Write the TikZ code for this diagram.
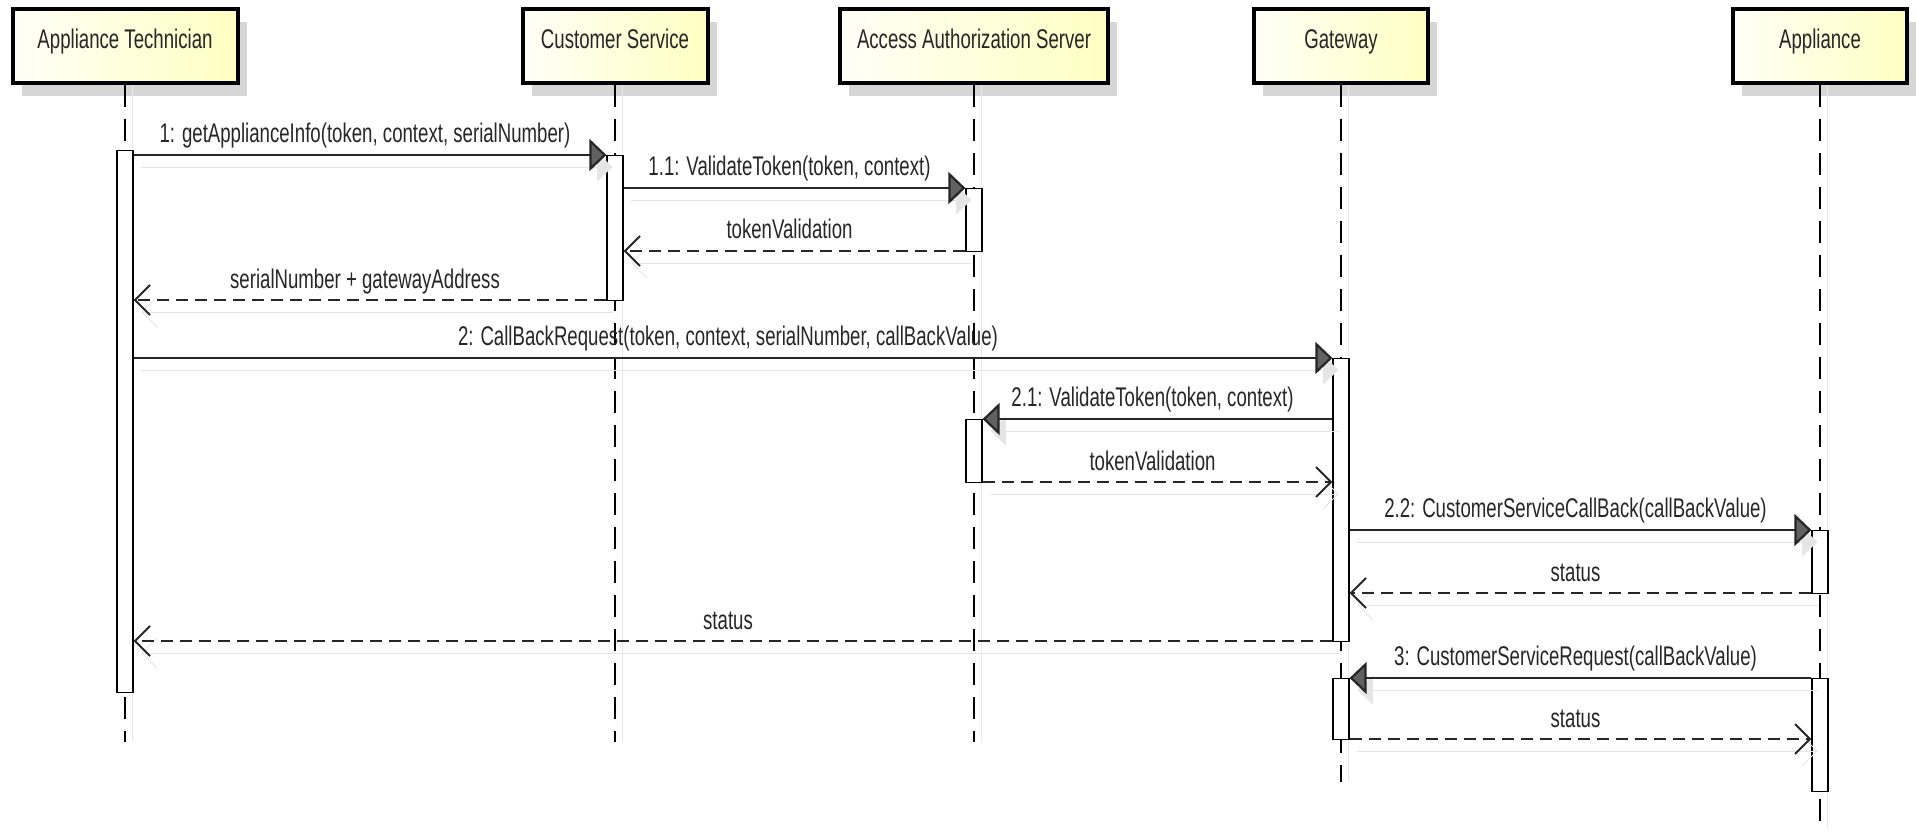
\documentclass[tikz,border=0pt]{standalone}
\usepackage{fontspec}
\setmainfont[FakeStretch=0.69]{Liberation Sans}
\usetikzlibrary{arrows.meta, shadows}

\begin{document}
\begin{tikzpicture}[x=0.5pt, y=-0.5pt]
\def\xT{125}
\def\xC{615}
\def\xA{974}
\def\xG{1341}
\def\xP{1820}
\tikzset{
  actor/.style={draw, line width=2pt, left color=yellow!3, right color=yellow!24, minimum height=37pt, inner sep=0pt, text height=9.8pt, text depth=7.5pt, font=\fontsize{13.5}{16}\selectfont, text=black!85, drop shadow={shadow xshift=4.5pt, shadow yshift=-6.5pt, fill=black!16, opacity=1}},
  life/.style={line width=0.75pt, dash pattern=on 11pt off 6pt, preaction={draw=black!9, solid, transform canvas={xshift=3.5pt}}},
  actbar/.style={draw, fill=white, line width=0.6pt, minimum width=8pt, inner sep=0pt, anchor=north},
  call/.style={line width=1.1pt, draw=black!85, -{Triangle[length=8.5pt, width=16pt, fill=black!62]}, preaction={draw=black!10, -{Triangle[length=8.5pt, width=16pt, fill=black!10]}, transform canvas={shift={(3.5pt,-6pt)}}}},
  reply/.style={line width=1pt, draw=black!85, dash pattern=on 6pt off 3.5pt, -{Straight Barb[length=7.5pt, width=15pt]}, preaction={draw=black!10, solid, transform canvas={shift={(3.5pt,-6pt)}}}},
  lbl/.style={font=\fontsize{13.5}{16}\selectfont, text=black!85, above, text depth=2.5pt, inner sep=3pt, xshift=-2.5pt}
}
\useasboundingbox (0,0) rectangle (1916,834);

% participants
\node[actor, minimum width=112.5pt] (tech) at (\xT,46) {Appliance Technician};
\node[actor, minimum width=92.5pt] (cs) at (\xC,46) {Customer Service};
\node[actor, minimum width=134pt] (aas) at (\xA,46) {Access Authorization Server};
\node[actor, minimum width=87pt] (gw) at (\xG,46) {Gateway};
\node[actor, minimum width=87pt] (app) at (\xP,46) {Appliance};

\draw[life] (tech.south) -- (tech.south |- 0,742);
\draw[life] (cs.south) -- (cs.south |- 0,742);
\draw[life] (aas.south) -- (aas.south |- 0,742);
\draw[life] (gw.south) -- (gw.south |- 0,782);
\draw[life] (app.south) -- (app.south |- 0,828);

% activations
\node[actbar, minimum height=271pt] (techBar) at (\xT,150) {};
\node[actbar, minimum height=72.5pt] (csBar) at (\xC,155) {};
\node[actbar, minimum height=31.5pt] (aasBarA) at (\xA,188) {};
\node[actbar, minimum height=31.5pt] (aasBarB) at (\xA,419) {};
\node[actbar, minimum height=141.5pt] (gwBarA) at (\xG,358) {};
\node[actbar, minimum height=31.5pt] (appBarA) at (\xP,530) {};
\node[actbar, minimum height=30.5pt] (gwBarB) at (\xG,678) {};
\node[actbar, minimum height=56.5pt] (appBarB) at (\xP,678) {};

% messages
\draw[call] (techBar.east |- 0,155) -- (csBar.west |- 0,155) node[lbl, midway] {1: getApplianceInfo(token, context, serialNumber)};
\draw[call] (csBar.east |- 0,188) -- (aasBarA.west |- 0,188) node[lbl, midway] {1.1: ValidateToken(token, context)};
\draw[reply] (aasBarA.west |- 0,251) -- (csBar.east |- 0,251) node[lbl, midway] {tokenValidation};
\draw[reply] (csBar.west |- 0,300) -- (techBar.east |- 0,300) node[lbl, midway] {serialNumber + gatewayAddress};
\draw[call] (techBar.east |- 0,358) -- (gwBarA.west |- 0,358) node[lbl, midway] {2: CallBackRequest(token, context, serialNumber, callBackValue)};
\draw[call] (gwBarA.west |- 0,419) -- (aasBarB.east |- 0,419) node[lbl, midway] {2.1: ValidateToken(token, context)};
\draw[reply] (aasBarB.east |- 0,482) -- (gwBarA.west |- 0,482) node[lbl, midway] {tokenValidation};
\draw[call] (gwBarA.east |- 0,530) -- (appBarA.west |- 0,530) node[lbl, midway] {2.2: CustomerServiceCallBack(callBackValue)};
\draw[reply] (appBarA.west |- 0,593) -- (gwBarA.east |- 0,593) node[lbl, midway] {status};
\draw[reply] (gwBarA.west |- 0,641) -- (techBar.east |- 0,641) node[lbl, midway] {status};
\draw[call] (appBarB.west |- 0,678) -- (gwBarB.east |- 0,678) node[lbl, midway] {3: CustomerServiceRequest(callBackValue)};
\draw[reply] (gwBarB.east |- 0,739) -- (appBarB.west |- 0,739) node[lbl, midway] {status};
\end{tikzpicture}
\end{document}
